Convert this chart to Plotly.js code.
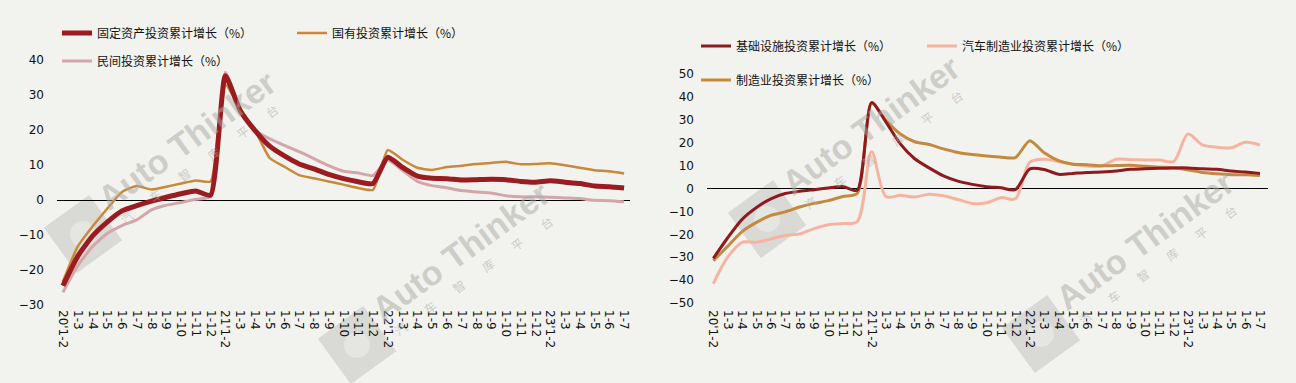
<!DOCTYPE html>
<html><head><meta charset="utf-8">
<script src="https://cdn.plot.ly/plotly-3.0.1.min.js"></script>
<style>html,body{margin:0;padding:0;background:#F2F2EE;} #chart{width:1296px;height:383px;}</style>
</head><body><div id="chart"></div>
<script>
// ---------- data ----------
const categories = ["20'1-2","1-3","1-4","1-5","1-6","1-7","1-8","1-9","1-10","1-11","1-12",
  "21'1-2","1-3","1-4","1-5","1-6","1-7","1-8","1-9","1-10","1-11","1-12",
  "22'1-2","1-3","1-4","1-5","1-6","1-7","1-8","1-9","1-10","1-11","1-12",
  "23'1-2","1-3","1-4","1-5","1-6","1-7"];

// left panel
const fixedAsset = [-24.5,-16.1,-10.3,-6.3,-3.1,-1.6,-0.3,0.8,1.8,2.6,1.4,
  35.5,25.6,19.9,15.4,12.6,10.3,8.9,7.3,6.1,5.2,4.7,
  12.2,9.3,6.8,6.2,6.1,5.7,5.8,5.9,5.8,5.3,5.1,
  5.5,5.1,4.7,4.0,3.8,3.4];
const stateOwned = [-23.3,-13.3,-7.6,-2.5,2.3,4.0,3.0,3.8,4.7,5.6,5.3,
  32.9,26.0,20.0,12.0,9.5,7.1,6.2,5.3,4.4,3.4,2.9,
  14.3,11.5,9.2,8.6,9.4,9.8,10.3,10.6,10.9,10.2,10.3,
  10.5,9.9,9.2,8.5,8.2,7.6];
const privateInv = [-26.4,-18.8,-13.3,-9.6,-7.3,-5.7,-2.8,-1.5,-0.7,0.2,1.0,
  36.4,26.0,20.0,17.5,15.6,13.8,11.8,9.8,8.2,7.7,7.0,
  11.4,8.4,5.3,4.1,3.5,2.7,2.3,2.0,1.2,0.9,0.9,
  0.8,0.6,0.4,-0.1,-0.2,-0.5];

// right panel
const infra = [-30.5,-21.5,-13.5,-8.3,-4.5,-2.2,-1.2,-0.5,0.2,0.9,-0.8,
  37.5,29.0,19.5,13.0,9.0,5.5,3.2,1.8,0.8,0.3,-0.5,
  8.6,8.3,6.2,6.6,7.0,7.2,7.6,8.4,8.6,8.8,9.0,
  9.0,8.6,8.4,7.6,7.2,6.6];
const autoMfg = [-41.6,-30.0,-23.5,-23.5,-22.0,-20.5,-19.8,-17.5,-15.8,-15.3,-14.5,
  16.0,-3.5,-3.0,-3.7,-2.5,-3.2,-4.8,-6.5,-6.2,-4.0,-4.5,
  11.5,12.8,11.8,10.6,9.8,9.8,12.8,12.6,12.5,12.4,11.8,
  23.8,19.0,18.0,17.8,20.2,19.0];
const manufacturing = [-31.5,-25.2,-18.8,-14.8,-11.7,-10.2,-8.1,-6.5,-5.3,-3.5,-2.2,
  37.3,29.8,23.8,20.4,19.2,17.3,15.7,14.8,14.2,13.7,13.5,
  20.9,15.6,12.2,10.6,10.4,9.9,10.0,10.1,9.7,9.3,9.1,
  8.1,7.0,6.4,6.0,6.0,5.7];

const leftYTicks = [-30,-20,-10,0,10,20,30,40];
const rightYTicks = [-50,-40,-30,-20,-10,0,10,20,30,40,50];

const names = {
  fixed: "固定资产投资累计增长（%）",
  state: "国有投资累计增长（%）",
  priv: "民间投资累计增长（%）",
  infra: "基础设施投资累计增长（%）",
  auto: "汽车制造业投资累计增长（%）",
  manu: "制造业投资累计增长（%）"
};

// ---------- helpers ----------
const W = 1296, H = 383;
const px = x => x / W, py = y => 1 - y / H;
const xIdx = categories.map((_, i) => i);
const CJK = '"Noto Sans CJK SC", "Noto Sans", sans-serif';
const TICKF = {family: '"DejaVu Sans", Verdana, sans-serif', size: 12, color: '#111'};

function tr(y, name, color, width, xa, ya, legend, smooth) {
  return {x: xIdx, y: y, name: name, type: 'scatter', mode: 'lines',
    line: {color: color, width: width, shape: 'spline', smoothing: smooth},
    xaxis: xa, yaxis: ya, legend: legend, hoverinfo: 'skip'};
}

const data = [
  tr(privateInv, names.priv, '#D4A6A9', 3, 'x', 'y', 'legend2', 0.5),
  tr(stateOwned, names.state, '#C8893B', 2.5, 'x', 'y', 'legend', 0.5),
  tr(fixedAsset, names.fixed, '#9B1C20', 5, 'x', 'y', 'legend', 0.5),
  tr(autoMfg, names.auto, '#F6B4A0', 3, 'x2', 'y2', 'legend4', 0.9),
  tr(manufacturing, names.manu, '#C4893F', 3, 'x2', 'y2', 'legend5', 0.7),
  tr(infra, names.infra, '#8E1A1E', 3, 'x2', 'y2', 'legend3', 0.7)
];

function leg(x, y) {
  return {x: px(x), y: py(y), xanchor: 'left', yanchor: 'middle',
    orientation: 'h', bgcolor: 'rgba(0,0,0,0)', borderwidth: 0,
    font: {family: CJK, size: 12, color: '#111'}, traceorder: 'reversed'};
}

// watermarks
const marks = [[187,140],[461,251],[871,125],[1145,240]];
const annotations = [];
const shapes = [];
const ang = -36 * Math.PI / 180;
marks.forEach(([cx, cy]) => {
  annotations.push({xref: 'paper', yref: 'paper', x: px(cx), y: py(cy), showarrow: false,
    xanchor: 'center', yanchor: 'middle',
    text: '<b>Auto Thinker</b>', textangle: -36,
    font: {family: '"Liberation Sans", Arial, sans-serif', size: 34, color: 'rgba(170,170,165,0.5)'}});
  annotations.push({xref: 'paper', yref: 'paper', x: px(cx + 12), y: py(cy + 24), showarrow: false,
    xanchor: 'center', yanchor: 'middle',
    text: '汽\u2003\u2003车\u2003\u2003智\u2003\u2003库\u2003\u2003平\u2003\u2003台', textangle: -36,
    font: {family: CJK, size: 12, color: 'rgba(170,170,165,0.55)'}});
  // logo rounded square
  const lx = cx - 104, ly = cy + 94, s = 28;
  const pts = [[-s,-s],[s,-s],[s,s],[-s,s]].map(([a,b]) => {
    const rx = a*Math.cos(ang) - b*Math.sin(ang), ry = a*Math.sin(ang) + b*Math.cos(ang);
    return [px(lx + rx), py(ly + ry)];
  });
  shapes.push({type: 'path', xref: 'paper', yref: 'paper', layer: 'below',
    path: 'M' + pts.map(p => p[0] + ',' + p[1]).join(' L') + ' Z',
    fillcolor: 'rgba(200,200,196,0.6)', line: {width: 0}});
  shapes.push({type: 'circle', xref: 'paper', yref: 'paper', layer: 'below',
    x0: px(lx - 13), x1: px(lx + 13), y0: py(ly + 13), y1: py(ly - 13),
    fillcolor: 'rgba(232,232,228,0.75)', line: {width: 0}});
});

const layout = {
  width: W, height: H, margin: {l: 0, r: 0, t: 0, b: 0},
  paper_bgcolor: '#F2F2EE', plot_bgcolor: 'rgba(0,0,0,0)',
  showlegend: true,
  xaxis: {domain: [px(57), px(630)], range: [-0.4, 38.4], tickvals: xIdx, ticktext: categories,
    tickangle: 90, showgrid: false, zeroline: false, showline: false, ticks: '',
    tickfont: TICKF, anchor: 'y', ticklabelstandoff: 4, fixedrange: true},
  yaxis: {domain: [py(305), py(60)], range: [-30, 40], tickvals: leftYTicks,
    showgrid: false, zeroline: true, zerolinecolor: '#000', zerolinewidth: 1, showline: false,
    ticks: '', tickfont: TICKF, anchor: 'x', ticklabelstandoff: 12, fixedrange: true},
  xaxis2: {domain: [px(707), px(1268)], range: [-0.44, 38.56], tickvals: xIdx, ticktext: categories,
    tickangle: 90, showgrid: false, zeroline: false, showline: false, ticks: '',
    tickfont: TICKF, anchor: 'y2', ticklabelstandoff: 6, fixedrange: true},
  yaxis2: {domain: [py(303), py(74)], range: [-50, 50], tickvals: rightYTicks,
    showgrid: false, zeroline: true, zerolinecolor: '#000', zerolinewidth: 1, showline: false,
    ticks: '', tickfont: TICKF, anchor: 'x2', ticklabelstandoff: 12, fixedrange: true},
  legend: Object.assign(leg(57, 33), {entrywidth: 190}),
  legend2: leg(57, 61),
  legend3: leg(696, 46),
  legend4: leg(922, 46),
  legend5: leg(696, 80),
  annotations: annotations,
  shapes: shapes
};

Plotly.newPlot('chart', data, layout, {displayModeBar: false, staticPlot: true});
</script>
</body></html>
